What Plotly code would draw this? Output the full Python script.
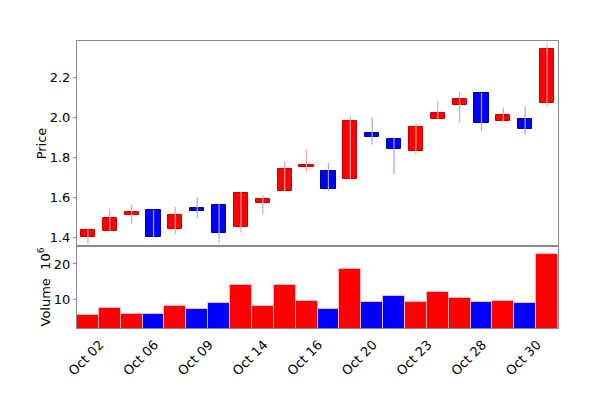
import plotly.graph_objects as go

# ---- data (Oct 2008 trading days) ----
dates = ["Oct 02", "Oct 03", "Oct 06", "Oct 07", "Oct 08", "Oct 09", "Oct 10", "Oct 13",
         "Oct 14", "Oct 15", "Oct 16", "Oct 17", "Oct 20", "Oct 21", "Oct 22", "Oct 23",
         "Oct 24", "Oct 27", "Oct 28", "Oct 29", "Oct 30", "Oct 31"]
opens = [1.400, 1.430, 1.512, 1.533, 1.442, 1.545, 1.562, 1.452, 1.572, 1.632, 1.750,
         1.730, 1.690, 1.918, 1.888, 1.830, 1.990, 2.058, 2.118, 1.980, 1.988, 2.068]
closes = [1.433, 1.493, 1.523, 1.402, 1.512, 1.532, 1.422, 1.622, 1.592, 1.742, 1.762,
          1.640, 1.978, 1.900, 1.840, 1.948, 2.020, 2.088, 1.970, 2.008, 1.940, 2.338]
highs = [1.436, 1.538, 1.562, 1.535, 1.550, 1.600, 1.565, 1.625, 1.612, 1.778, 1.838,
         1.770, 2.008, 2.000, 1.898, 1.967, 2.078, 2.128, 2.120, 2.048, 2.050, 2.367]
lows = [1.367, 1.430, 1.467, 1.400, 1.412, 1.492, 1.372, 1.422, 1.512, 1.630, 1.728,
        1.632, 1.688, 1.862, 1.712, 1.812, 1.990, 1.970, 1.930, 1.978, 1.912, 2.050]
volumes = [5.6, 7.4, 5.8, 5.8, 8.1, 7.3, 8.9, 14.0, 8.1, 14.0, 9.5,
           7.3, 18.6, 9.2, 10.8, 9.2, 12.1, 10.4, 9.2, 9.6, 9.0, 22.7]  # x 1e6
tick_labels = ["Oct 02", "Oct 06", "Oct 09", "Oct 14", "Oct 16", "Oct 20", "Oct 23", "Oct 28", "Oct 30"]
tick_positions = [0, 2.5, 5, 7.5, 10, 12.5, 15, 17.5, 20]
price_ticks = [1.4, 1.6, 1.8, 2.0, 2.2]
volume_ticks = [10, 20]

UP, DOWN = "#ff0000", "#0000ff"
UP_EDGE, DOWN_EDGE = "#c80000", "#00009a"
UP_WICK, DOWN_WICK = "#f0a0a8", "#a8a8e8"

x = list(range(len(dates)))
is_up = [c >= o for o, c in zip(opens, closes)]

fig = go.Figure()

# wicks
for up_flag, wcol in ((True, UP_WICK), (False, DOWN_WICK)):
    wx, wy = [], []
    for i in x:
        if is_up[i] == up_flag:
            wx += [i, i, None]
            wy += [lows[i], highs[i], None]
    fig.add_trace(go.Scatter(x=wx, y=wy, mode="lines", line=dict(color=wcol, width=1.2),
                             hoverinfo="skip", showlegend=False, xaxis="x", yaxis="y"))

# bodies
for up_flag, fcol, ecol in ((True, UP, UP_EDGE), (False, DOWN, DOWN_EDGE)):
    bx = [i for i in x if is_up[i] == up_flag]
    base = [min(opens[i], closes[i]) for i in bx]
    h = [abs(closes[i] - opens[i]) for i in bx]
    fig.add_trace(go.Bar(x=bx, y=h, base=base, width=0.65,
                         marker=dict(color=fcol, line=dict(color=ecol, width=1)),
                         customdata=[dates[i] for i in bx],
                         hovertemplate="%{customdata}<extra></extra>",
                         showlegend=False, xaxis="x", yaxis="y"))

# volume
fig.add_trace(go.Bar(x=x, y=volumes, width=1.0,
                     marker=dict(color=[UP if u else DOWN for u in is_up],
                                 line=dict(color="rgba(255,190,200,0.9)", width=1)),
                     customdata=dates, hovertemplate="%{customdata}: %{y}<extra></extra>",
                     showlegend=False, xaxis="x2", yaxis="y2"))

font = dict(family="DejaVu Sans", size=13, color="black")
frame = dict(showline=True, mirror=True, linecolor="#8a8a8a", linewidth=1,
             showgrid=False, zeroline=False, automargin=False)

# the page body adds an 8px offset; margins compensate so the plot area sits at 77..558 x 41..328
fig.update_layout(
    width=600, height=410,
    margin=dict(l=69, r=50, t=33, b=90),
    paper_bgcolor="white", plot_bgcolor="white",
    font=font, barmode="overlay", bargap=0,
    xaxis=dict(domain=[0, 1], range=[-0.5, 21.5], anchor="y", showticklabels=False,
               ticks="", matches="x2", **frame),
    yaxis=dict(domain=[0.2857, 1], range=[1.355, 2.38], tickvals=price_ticks,
               tickformat=".1f", ticks="outside", ticklen=3, tickcolor="#8a8a8a",
               title=dict(text="Price", standoff=0, font=dict(size=13)), **frame),
    xaxis2=dict(domain=[0, 1], range=[-0.5, 21.5], anchor="y2",
                tickvals=tick_positions, ticktext=tick_labels, tickangle=-45,
                ticks="", ticklabelshift=12, ticklabelstandoff=3, **frame),
    yaxis2=dict(domain=[0, 0.2857], range=[1.8, 25.1], tickvals=volume_ticks,
                ticks="outside", ticklen=3, tickcolor="#8a8a8a",
                title=dict(text="Volume  10<sup>6</sup>", standoff=0, font=dict(size=13)),
                **frame),
)

fig.write_html("out.html")
